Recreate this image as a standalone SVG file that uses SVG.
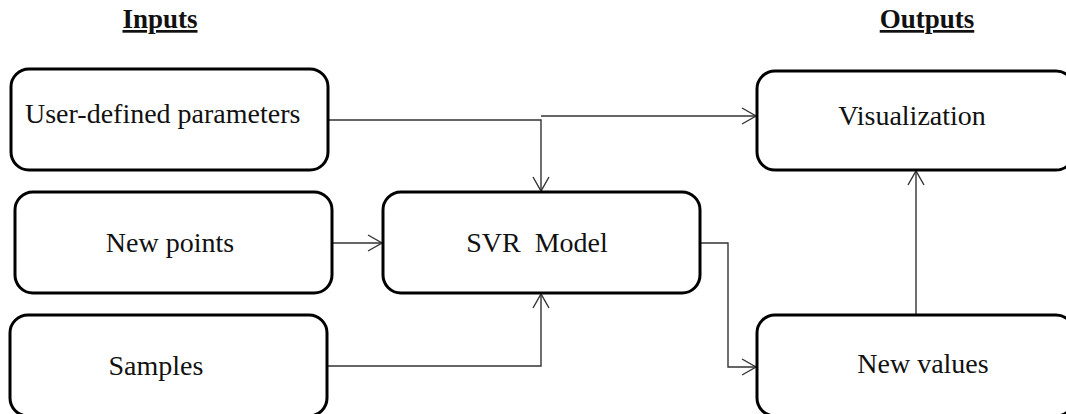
<svg xmlns="http://www.w3.org/2000/svg" width="1066" height="414" viewBox="0 0 1066 414">
<style>
.box{fill:#fff;stroke:#000;stroke-width:3}
.lbl{font-family:'Liberation Serif','Times New Roman','DejaVu Serif',serif;font-size:28px;fill:#111}
.hdr{font-family:'Liberation Serif','Times New Roman','DejaVu Serif',serif;font-size:27px;font-weight:bold;fill:#111;text-decoration:underline}
.con{fill:none;stroke:#333;stroke-width:1.4}
</style>
<defs>
<marker id="arr" markerUnits="userSpaceOnUse" markerWidth="20" markerHeight="20" viewBox="-16 -10 18 20" refX="0" refY="0" orient="auto">
<path d="M-14,-8 L0,0 L-14,8" fill="none" stroke="#333" stroke-width="1.4"/>
</marker>
</defs>
<rect width="1066" height="414" fill="#fff"/>
<g id="headers">
<text class="hdr" font-family="Liberation Serif, serif" x="160" y="28" text-anchor="middle">Inputs</text>
<text class="hdr" font-family="Liberation Serif, serif" x="927" y="28" text-anchor="middle">Outputs</text>
</g>
<g id="connectors">
<polyline class="con" points="328,120 541,120 541,191" marker-end="url(#arr)"/>
<line class="con" x1="541" y1="116" x2="756" y2="116" marker-end="url(#arr)"/>
<line class="con" x1="333" y1="243" x2="382" y2="243" marker-end="url(#arr)"/>
<polyline class="con" points="327,366 541,366 541,294" marker-end="url(#arr)"/>
<polyline class="con" points="700,243 728,243 728,367 756,367" marker-end="url(#arr)"/>
<line class="con" x1="916" y1="315" x2="916" y2="171" marker-end="url(#arr)"/>
</g>
<g id="user-defined">
<rect class="box" x="11" y="69" width="317" height="101" rx="18"/>
<text class="lbl" font-family="Liberation Serif, serif" x="25" y="123">User-defined parameters</text>
</g>
<g id="new-points">
<rect class="box" x="15" y="192" width="317" height="101" rx="18"/>
<text class="lbl" font-family="Liberation Serif, serif" x="170" y="252" text-anchor="middle">New points</text>
</g>
<g id="samples">
<rect class="box" x="10" y="315" width="317" height="101" rx="18"/>
<text class="lbl" font-family="Liberation Serif, serif" x="156" y="375" text-anchor="middle">Samples</text>
</g>
<g id="svr-model">
<rect class="box" x="383" y="192" width="317" height="101" rx="18"/>
<text class="lbl" font-family="Liberation Serif, serif" x="537" y="252" text-anchor="middle" xml:space="preserve">SVR  Model</text>
</g>
<g id="visualization">
<rect class="box" x="757" y="71" width="317" height="99" rx="18"/>
<text class="lbl" font-family="Liberation Serif, serif" x="912" y="125" text-anchor="middle">Visualization</text>
</g>
<g id="new-values">
<rect class="box" x="757" y="315" width="317" height="101" rx="18"/>
<text class="lbl" font-family="Liberation Serif, serif" x="923" y="373" text-anchor="middle">New values</text>
</g>
</svg>
